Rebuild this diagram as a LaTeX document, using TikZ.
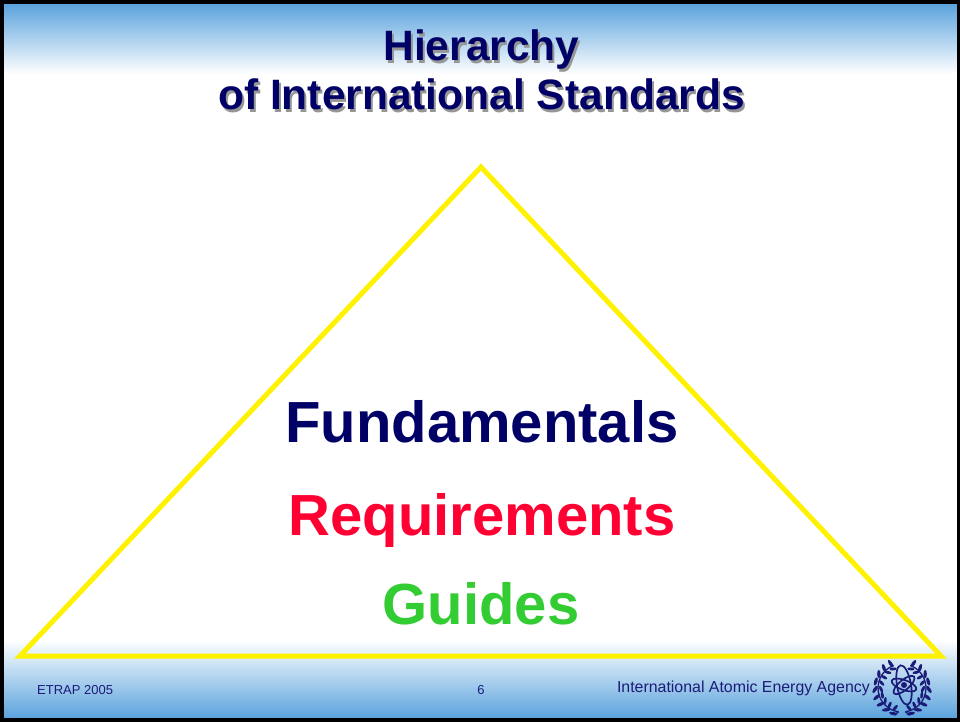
\documentclass[tikz,border=0pt]{standalone}
\usepackage{fontspec}
\setmainfont{Liberation Sans}
\definecolor{navy}{RGB}{0,0,102}
\definecolor{redt}{RGB}{255,0,51}
\definecolor{greent}{RGB}{51,204,51}
\definecolor{skyb}{RGB}{91,163,221}
\definecolor{foot}{RGB}{28,28,120}
\definecolor{shadowg}{RGB}{150,150,150}
\tikzset{
  titletext/.style={font=\fontsize{42.5}{42.5}\selectfont\bfseries, text=navy, anchor=base, inner sep=0pt},
  titleshadow/.style={titletext, text=shadowg},
  leveltext/.style={font=\fontsize{58}{58}\selectfont\bfseries, anchor=base, inner sep=0pt},
  foottext/.style={font=\fontsize{13}{13}\selectfont, text=foot, anchor=base, inner sep=0pt},
  leaf/.style={fill=foot},
  orbit/.style={draw=foot, line width=1.7pt},
}
\begin{document}
\begin{tikzpicture}[x=1pt,y=-1pt]
\useasboundingbox (0,0) rectangle (960,722);
% background
\fill[white] (0,0) rectangle (960,722);
\shade[top color=skyb, bottom color=white] (0,4) rectangle (960,74);
\shade[top color=white, bottom color=skyb] (0,640) rectangle (960,718);
% frame
\draw[black, line width=3.5pt] (1.75,2) rectangle (958.25,720);
% triangle
\coordinate (apex) at (481,167);
\coordinate (bl) at (20,656);
\coordinate (br) at (941,656);
\draw[yellow, line width=5pt, line join=miter] (apex) -- (bl) -- (br) -- cycle;
% title
\node[titleshadow] (t1s) at (483.5,63.5) {Hierarchy};
\node[titletext] (t1) at (481.5,61) {Hierarchy};
\node[titleshadow] (t2s) at (483.5,112.5) {of International Standards};
\node[titletext] (t2) at (481.5,110) {of International Standards};
% levels
\node[leveltext, text=navy] (fund) at (482,442) {Fundamentals};
\node[leveltext, text=redt] (req) at (482,535) {Requirements};
\node[leveltext, text=greent] (guid) at (481,624) {Guides};
% footer
\node[foottext, anchor=base west] (etrap) at (37,694) {ETRAP 2005};
\node[foottext] (page) at (481,694) {6};
\node[foottext, font=\fontsize{15.9}{15.9}\selectfont, anchor=base east] (iaea) at (870,692) {International Atomic Energy Agency};
% logo
\begin{scope}[shift={(902,688)}, yscale=-1]
  \draw[foot, line width=1.3pt] (110:24) arc (110:262:24);
  \draw[foot, line width=1.3pt] (70:24) arc (70:-82:24);
  \draw[foot, line width=1.3pt] (262:24) -- (-8,-27);
  \draw[foot, line width=1.3pt] (-82:24) -- (8,-27);
  \foreach \a in {115,132,149,166,183,200,217,234,251} {
    \fill[leaf, shift={(\a:27)}, rotate=\a-60] (0,0) ellipse (4.2 and 1.7);
    \fill[leaf, shift={(\a:21)}, rotate=\a-120] (0,0) ellipse (3.6 and 1.5);
  }
  \foreach \a in {65,48,31,14,-3,-20,-37,-54,-71} {
    \fill[leaf, shift={(\a:27)}, rotate=\a+60] (0,0) ellipse (4.2 and 1.7);
    \fill[leaf, shift={(\a:21)}, rotate=\a+120] (0,0) ellipse (3.6 and 1.5);
  }
  \begin{scope}[shift={(2,3)}]
    \draw[orbit, rotate=80] (0,0) ellipse (20 and 7);
    \draw[orbit, rotate=20] (0,0) ellipse (13 and 5);
    \draw[orbit, rotate=-40] (0,0) ellipse (13 and 5);
    \fill[foot] (0,0) circle (3);
  \end{scope}
\end{scope}
\end{tikzpicture}
\end{document}
